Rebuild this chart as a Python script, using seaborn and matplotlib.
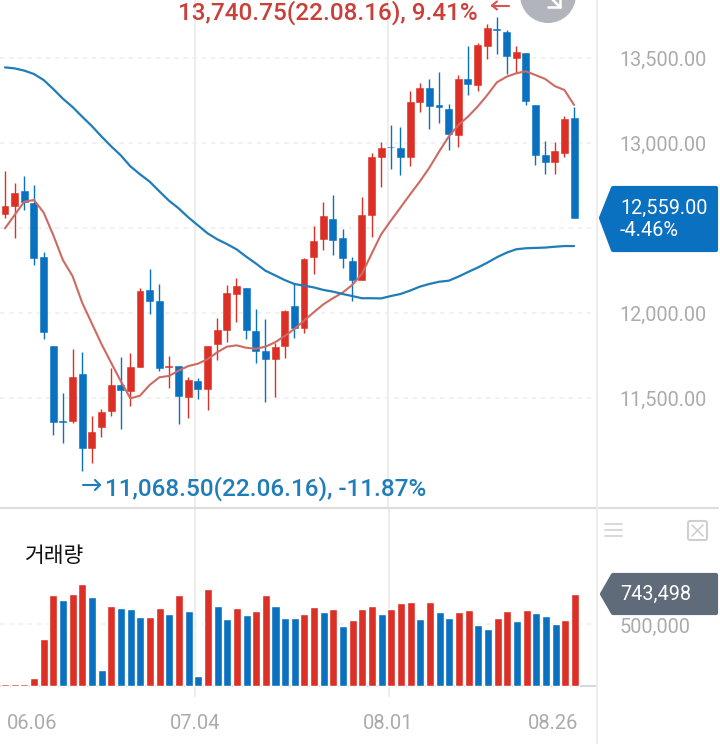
import numpy as np
import pandas as pd
import seaborn as sns
import matplotlib.pyplot as plt
from matplotlib.patches import Polygon, Circle, FancyBboxPatch
from matplotlib.transforms import ScaledTranslation

# daily candles
opens = [12579, 12630, 12718, 12643, 12326, 11806, 11361, 11361, 11639, 11206,
         11330, 11424, 11575, 11539, 11683, 12132, 12069, 11679, 11685, 11504,
         11600, 11553, 11816, 11896, 12112, 12145, 11894, 11775, 11726, 11806,
         12037, 11908, 12326, 12435, 12553, 12437, 12304, 12190, 12577, 12918,
         12977, 12967, 12918, 13241, 13320, 13220, 13200, 13047, 13375, 13341,
         13569, 13667, 13651, 13498, 13530, 13220, 12928, 12888, 12941, 13147]
closes = [12628, 12702, 12649, 12324, 11884, 11357, 11357, 11620, 11202, 11300,
          11414, 11575, 11543, 11681, 12126, 12071, 11677, 11685, 11508, 11604,
          11553, 11806, 11896, 12114, 12155, 11896, 11777, 11728, 11800, 12012,
          11912, 12314, 12422, 12567, 12426, 12324, 12194, 12575, 12918, 12971,
          12973, 12918, 13241, 13320, 13214, 13210, 13051, 13375, 13343, 13575,
          13673, 13661, 13508, 13533, 13247, 12930, 12884, 12949, 13139, 12559]
highs = [12835, 12765, 12804, 12751, 12359, 11806, 11530, 11788, 11771, 11392,
         11432, 11673, 11741, 11761, 12143, 12257, 12169, 11745, 11686, 11624,
         11614, 11806, 11971, 12163, 12204, 12145, 12020, 11963, 11824, 12016,
         12177, 12322, 12512, 12651, 12692, 12492, 12326, 12683, 12941, 13006,
         13104, 13092, 13306, 13349, 13377, 13416, 13228, 13400, 13571, 13584,
         13698, 13740.75, 13663, 13569, 13530, 13222, 13012, 13004, 13157, 13212]
lows = [12559, 12437, 12604, 12281, 11845, 11281, 11232, 11353, 11068.5, 11114,
        11271, 11394, 11316, 11453, 11683, 11990, 11659, 11559, 11345, 11379,
        11494, 11428, 11722, 11830, 11945, 11847, 11706, 11477, 11506, 11735,
        11853, 11883, 12230, 12369, 12337, 12263, 12067, 12190, 12443, 12737,
        12847, 12810, 12863, 13179, 13081, 13114, 12959, 12977, 13281, 13306,
        13490, 13520, 13404, 13412, 13224, 12869, 12818, 12818, 12918, 12559]

# moving averages
ma_short = [12496, 12575, 12653, 12663, 12590, 12457, 12310, 12216, 12059, 11937,
            11816, 11706, 11598, 11496, 11512, 11575, 11620, 11628, 11659, 11686,
            11700, 11726, 11767, 11800, 11808, 11794, 11788, 11800, 11826, 11863,
            11904, 11953, 12002, 12049, 12085, 12118, 12163, 12228, 12345, 12461,
            12541, 12618, 12696, 12771, 12853, 12947, 13035, 13104, 13153, 13212,
            13280, 13355, 13388, 13408, 13420, 13398, 13375, 13333, 13310, 13222]
ma_long = [13443, 13437, 13424, 13404, 13369, 13316, 13259, 13210, 13153, 13098,
           13037, 12979, 12926, 12861, 12814, 12771, 12714, 12659, 12614, 12561,
           12514, 12467, 12432, 12404, 12373, 12330, 12290, 12247, 12220, 12192,
           12169, 12159, 12149, 12134, 12124, 12110, 12098, 12085, 12085, 12084,
           12098, 12110, 12130, 12153, 12169, 12182, 12188, 12212, 12239, 12265,
           12294, 12326, 12353, 12373, 12379, 12381, 12383, 12388, 12392, 12392]

# volume
volumes = [13470, 13470, 10776, 59268, 379854, 732768, 689664, 740850, 821670, 719298,
           126618, 646560, 625008, 619620, 552270, 552270, 625008, 579210, 732768, 600762,
           78126, 781260, 641172, 536106, 627702, 568434, 603456, 730074, 646560, 549576,
           544188, 576516, 635784, 595374, 622314, 484920, 528024, 622314, 641172, 576516,
           616926, 668112, 678888, 536106, 678888, 592680, 546882, 595374, 611538, 493002,
           457980, 549576, 606150, 519942, 611538, 587292, 565740, 495696, 533412, 743498]
volume_sides = list('rrrrrrbrrbbrbbbrrbrbbrbbrbrrbbb'
                    'rrbrbrrrbrrrbrbbrrbbrrbrbbbrr')

x_tick_pos = [2.8, 19.7, 39.7, 56.7]
x_tick_labels = ['06.06', '07.04', '08.01', '08.26']
price_ticks = [11500, 12000, 12500, 13000, 13500]
price_labels = ['11,500.00', '12,000.00', '', '13,000.00', '13,500.00']
volume_ticks = [500000]
volume_labels = ['500,000']

RED = '#DC2F25'
BLUE = '#0A70C0'
GRID = '#EDEDED'
TICK = '#ABABAB'
LABEL_RED = '#C9403A'
LABEL_BLUE = '#1F7DB8'

sns.set_style('white')
plt.rcParams['font.family'] = ['Roboto', 'DejaVu Sans']

W, H = 720, 744
fig = plt.figure(figsize=(W / 100, H / 100), dpi=100)


def px_axes(left, top, right, bottom):
    return fig.add_axes([left / W, 1 - bottom / H, (right - left) / W, (bottom - top) / H])


def style_axes(ax, label_shift):
    sns.despine(ax=ax, left=True, top=True, bottom=True, right=True)
    ax.yaxis.tick_right()
    ax.grid(False)
    ax.set_xlabel('')
    ax.set_ylabel('')
    ax.set_axisbelow(True)
    ax.yaxis.grid(True, color=GRID, lw=1.1, ls=(0, (3, 3)))
    ax.tick_params(axis='y', length=0, pad=16, labelsize=14.3, labelcolor=TICK)
    for pos in x_tick_pos[1:3]:
        ax.axvline(pos, color=GRID, lw=1.4, zorder=0)
    # nudge the price labels down a little, the app centres them lower
    for lbl in ax.get_yticklabels():
        lbl.set_transform(lbl.get_transform() + ScaledTranslation(0, -label_shift / 100, fig.dpi_scale_trans))


# price panel
ax = px_axes(0, 0, 597, 508)
idx = np.arange(len(opens))
price_df = pd.DataFrame({'idx': idx, 'short': ma_short, 'long': ma_long})
body_colors = [RED if c > o else BLUE for o, c in zip(opens, closes)]
ax.vlines(idx, lows, highs, colors=body_colors, lw=1.0, zorder=2)
ax.bar(idx, np.abs(np.array(closes) - np.array(opens)), bottom=np.minimum(opens, closes),
       width=0.72, color=body_colors, edgecolor=body_colors, lw=0.4, zorder=2)
sns.lineplot(data=price_df, x='idx', y='short', color='#CE6A62', lw=1.5, ax=ax, zorder=3)
sns.lineplot(data=price_df, x='idx', y='long', color='#1F7DB8', lw=1.6, ax=ax, zorder=3)
ax.set_xlim(-0.518, 61.38)
ax.set_ylim(10851.2, 13839.3)
ax.set_xticks([])
ax.set_yticks(price_ticks, price_labels)
style_axes(ax, 1)

# volume panel
ax_vol = px_axes(0, 508, 597, 697)
vol_df = pd.DataFrame({'idx': idx, 'volume': volumes, 'side': volume_sides})
sns.barplot(data=vol_df, x='idx', y='volume', hue='side', palette={'r': RED, 'b': BLUE},
            dodge=False, width=0.83, saturation=1, legend=False, ax=ax_vol)
ax_vol.set_xlim(-0.518, 61.28)
ax_vol.set_ylim(-92943, 1434555)
ax_vol.set_xticks(x_tick_pos, x_tick_labels)
ax_vol.set_yticks(volume_ticks, volume_labels)
ax_vol.tick_params(axis='x', length=0, pad=12.5, labelsize=14.5, labelcolor=TICK)
style_axes(ax_vol, 2)
ax_vol.axhline(-4000, color='#D4D8DC', lw=1.4, zorder=0.5)

# overlay in pixel coordinates for the callouts and icons
top = fig.add_axes([0, 0, 1, 1])
top.set_xlim(0, W)
top.set_ylim(H, 0)
top.axis('off')
top.patch.set_alpha(0)

top.plot([0, 718], [508, 508], color='#DDDDDD', lw=1.5)
top.plot([597, 597], [0, 744], color=GRID, lw=1.5)

top.text(178, 19.5, '13,740.75(22.08.16), 9.41%', color=LABEL_RED, fontsize=17.5,
         fontweight='medium', va='baseline', ha='left')
top.text(105, 496, '11,068.50(22.06.16), -11.87%', color=LABEL_BLUE, fontsize=17.5,
         fontweight='medium', va='baseline', ha='left')
top.text(25, 556, '거래량', color='#111111', fontsize=15.5,
         family=['Noto Sans CJK KR', 'DejaVu Sans'], va='center', ha='left')

# high / low arrows next to the labels
top.plot([492, 509], [5.5, 5.5], color='#D9534C', lw=1.5)
top.plot([497, 492, 497], [1.5, 5.5, 9.5], color='#D9534C', lw=1.5)
top.plot([83, 100], [485, 485], color=LABEL_BLUE, lw=1.5)
top.plot([95, 100, 95], [480, 485, 490], color=LABEL_BLUE, lw=1.5)

# round button cut off by the top edge
top.add_patch(Circle((548, -5), 28, color='#B1B5BB', lw=0))
for xs, ys in [([540, 560], [-13, 7]), ([560, 560], [-5, 7]), ([548, 560], [7, 7])]:
    top.plot(xs, ys, color='white', lw=1.8, solid_capstyle='round')

# last price callouts
top.add_patch(Polygon([(613, 188), (716, 188), (716, 250), (613, 250), (601, 218)],
                      closed=True, fc=BLUE, ec=BLUE, lw=3, joinstyle='round'))
top.text(620, 208, '12,559.00', color='white', fontsize=14.3, va='center', ha='left')
top.text(620, 231, '-4.46%', color='white', fontsize=14.3, va='center', ha='left')
top.add_patch(Polygon([(613, 575), (716, 575), (716, 613), (613, 613), (602, 594)],
                      closed=True, fc='#5F6B78', ec='#5F6B78', lw=3, joinstyle='round'))
top.text(620, 594, '743,498', color='white', fontsize=14.3, va='center', ha='left')

# panel icons
for y in [524, 530, 536]:
    top.plot([605, 622], [y, y], color='#D2D2D2', lw=1.2)
top.add_patch(FancyBboxPatch((688, 521), 19, 19, boxstyle='round,pad=0,rounding_size=2',
                             fc='none', ec='#CFCFCF', lw=1.5))
top.plot([692, 703], [525, 536], color='#CFCFCF', lw=1.2)
top.plot([692, 703], [536, 525], color='#CFCFCF', lw=1.2)

fig.savefig('out.png', dpi=100)
